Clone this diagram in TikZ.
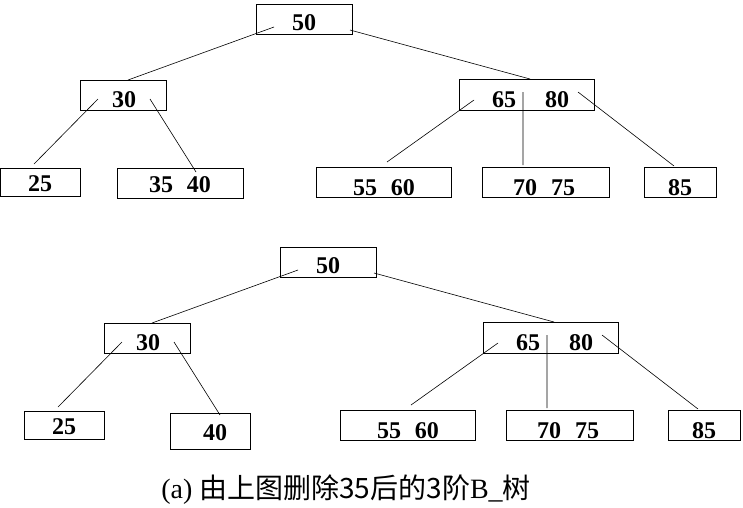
\documentclass[tikz,border=0pt]{standalone}
\usepackage{fontspec}
\setmainfont{Liberation Serif}
\newfontfamily\cjk{Noto Sans CJK SC}
\begin{document}
\begin{tikzpicture}[x=1pt,y=-1pt,
  bx/.style={draw,line width=0.8pt},
  lb/.style={font=\fontsize{24}{26}\selectfont\bfseries,inner sep=0pt},
  ln/.style={line width=0.6pt}]
\useasboundingbox (0,0) rectangle (743,507);
\foreach \dx/\dy/\p in {0/0/t,24/243/b}{
\begin{scope}[shift={(\dx,\dy)}]
\draw[bx] (256,4) rectangle (352,34);
\node[lb] (\p50) at (304,23) {50};
\draw[bx] (80,80) rectangle (166,110);
\node[lb] (\p30) at (124,100) {30};
\draw[bx] (459,79) rectangle (594,110);
\node[lb] (\p65) at (504,100) {65};
\node[lb] (\p80) at (557,100) {80};
\draw[bx] (0,168) rectangle (80,196);
\node[lb] (\p25) at (40,184) {25};
\draw[bx] (316,167) rectangle (451,197);
\node[lb] (\p55) at (384,188) {55\hspace{14pt}60};
\draw[bx] (482,167) rectangle (609,197);
\node[lb] (\p70) at (544,188) {70\hspace{14pt}75};
\draw[bx] (644,167) rectangle (716,197);
\node[lb] (\p85) at (680,188) {85};
\coordinate (\p a) at (274,27);
\coordinate (\p b) at (128,80);
\coordinate (\p c) at (350,30);
\coordinate (\p d) at (530,79);
\coordinate (\p e) at (98,99);
\coordinate (\p f) at (34,164);
\coordinate (\p g) at (150,99);
\coordinate (\p h) at (196,172);
\coordinate (\p i) at (474,100);
\coordinate (\p j) at (387,162);
\coordinate (\p k) at (523,92);
\coordinate (\p l) at (523,165);
\coordinate (\p m) at (578,92);
\coordinate (\p n) at (674,166);
\draw[ln] (\p a)--(\p b) (\p c)--(\p d) (\p e)--(\p f) (\p g)--(\p h)
  (\p i)--(\p j) (\p k)--(\p l) (\p m)--(\p n);
\end{scope}}
\draw[bx] (117,168) rectangle (243,198);
\node[lb] (t35) at (180,185) {35\hspace{14pt}40};
\draw[bx] (170,413) rectangle (250,449);
\node[lb] (b40) at (215,433) {40};
\node[font=\fontsize{28}{30}\selectfont,inner sep=0pt] (cap) at (346,490) {(a) {\cjk 由上图删除35后的3阶}B\_{\cjk 树}};
\end{tikzpicture}
\end{document}
